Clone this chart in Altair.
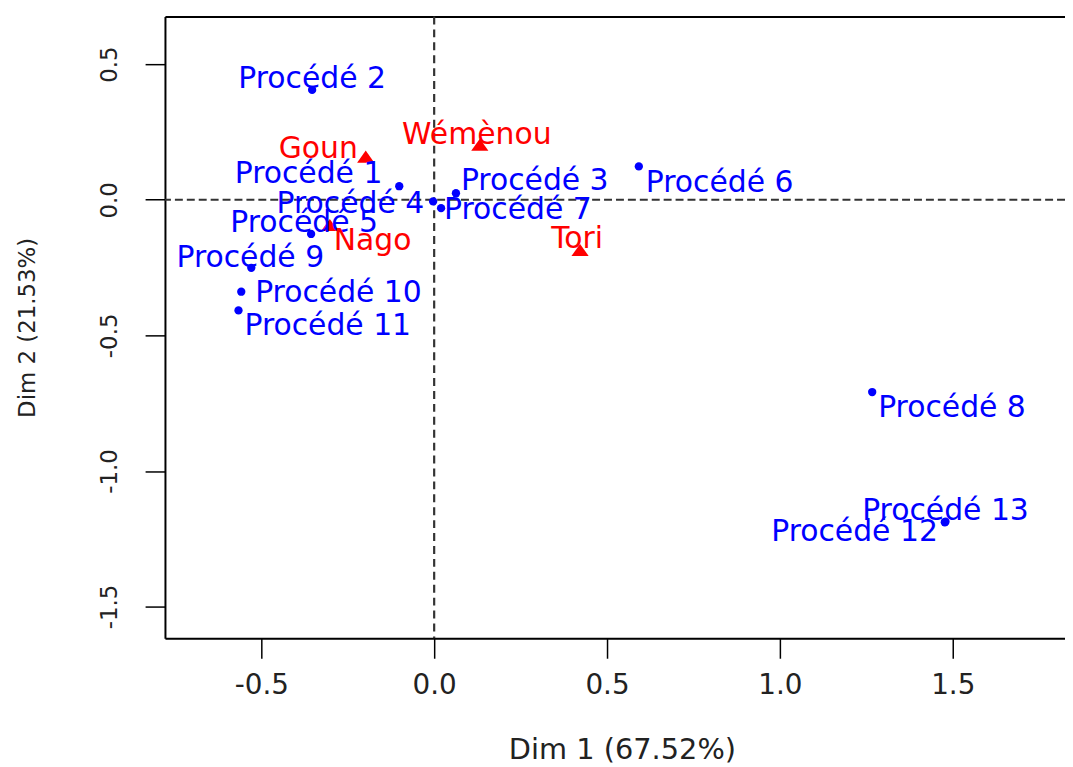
import altair as alt
import pandas as pd

# ---- data ----
proc_names = ["Procédé 1", "Procédé 2", "Procédé 3", "Procédé 4", "Procédé 5",
              "Procédé 6", "Procédé 7", "Procédé 8", "Procédé 9", "Procédé 10",
              "Procédé 11", "Procédé 12", "Procédé 13"]
proc_dim1 = [-0.101, -0.353, 0.063, -0.003, -0.356, 0.592, 0.020, 1.267,
             -0.529, -0.558, -0.566, 1.477, 1.479]
proc_dim2 = [0.050, 0.405, 0.024, -0.006, -0.126, 0.123, -0.031, -0.709,
             -0.251, -0.339, -0.408, -1.189, -1.187]

grp_names = ["Goun", "Wémènou", "Nago", "Tori"]
grp_dim1 = [-0.198, 0.132, -0.302, 0.422]
grp_dim2 = [0.159, 0.203, -0.093, -0.185]

x_ticks = [-0.5, 0.0, 0.5, 1.0, 1.5]
y_ticks = [-1.5, -1.0, -0.5, 0.0, 0.5]
x_title = "Dim 1 (67.52%)"
y_title = "Dim 2 (21.53%)"

# ---- label placement (layout, pixels): align, dx, dy ----
label_layout = {
    "Procédé 1": ("right", -17, -12),
    "Procédé 2": ("center", 0, -11),
    "Procédé 3": ("left", 5, -12),
    "Procédé 4": ("right", -9, 3),
    "Procédé 5": ("center", -7, -11),
    "Procédé 6": ("left", 7, 17),
    "Procédé 7": ("left", 3, 2),
    "Procédé 8": ("left", 6, 16),
    "Procédé 9": ("center", -1, -10),
    "Procédé 10": ("left", 14, 1),
    "Procédé 11": ("left", 6, 16),
    "Procédé 12": ("right", -7, 10),
    "Procédé 13": ("center", 0, -11),
    "Goun": ("right", -8, -8),
    "Wémènou": ("center", -3, -10),
    "Nago": ("left", 4, 16),
    "Tori": ("center", -3, -11),
}

BLUE = "#0000FF"
RED = "#FF0000"
FONT = "DejaVu Sans"
W, H = 906, 626

proc = pd.DataFrame({"name": proc_names, "d1": proc_dim1, "d2": proc_dim2})
grp = pd.DataFrame({"name": grp_names, "d1": grp_dim1, "d2": grp_dim2})
zero = pd.DataFrame({"v": [0.0]})

xscale = alt.Scale(domain=[-0.7787, 1.8247], nice=False, zero=False)
yscale = alt.Scale(domain=[-1.6172, 0.6758], nice=False, zero=False)

lab_expr = "(datum.value < 0 ? '-' : '') + format(abs(datum.value), '.1f')"

x_axis = alt.Axis(values=x_ticks, labelExpr=lab_expr, grid=False,
                  tickSize=20, tickWidth=1.5, tickColor="black",
                  domainColor="black", domainWidth=2,
                  labelFont=FONT, labelFontSize=28, labelColor="#222222",
                  labelPadding=14, title=x_title, titleFont=FONT,
                  titleFontSize=29, titleFontWeight="normal", titleColor="#222222",
                  titleX=460, titleY=112, titleBaseline="middle", titleAlign="center")
y_axis = alt.Axis(values=y_ticks, labelExpr=lab_expr, grid=False,
                  tickSize=20, tickWidth=1.5, tickColor="black",
                  domainColor="black", domainWidth=2,
                  labelFont=FONT, labelFontSize=23, labelColor="#222222",
                  labelAngle=270, labelAlign="center", labelBaseline="bottom",
                  labelPadding=24, title=y_title, titleFont=FONT,
                  titleFontSize=23, titleFontWeight="normal", titleColor="#222222",
                  titleAngle=270, titleX=-138, titleY=313,
                  titleBaseline="middle", titleAlign="center")
top_axis = alt.Axis(orient="top", labels=False, ticks=False, grid=False,
                    domainColor="black", domainWidth=2, title=None)

vline = alt.Chart(zero).mark_rule(color="#333333", strokeWidth=2.2,
                                   strokeDash=[8, 5]).encode(
    x=alt.X("v:Q", scale=xscale, axis=top_axis))
hline = alt.Chart(zero).mark_rule(color="#333333", strokeWidth=1.8,
                                   strokeDash=[8, 4]).encode(
    y=alt.Y("v:Q", scale=yscale, axis=None))

pts = alt.Chart(proc).mark_point(filled=True, shape="circle", size=70,
                                 color=BLUE, opacity=1).encode(
    x=alt.X("d1:Q", scale=xscale, axis=x_axis),
    y=alt.Y("d2:Q", scale=yscale, axis=y_axis))
tris = alt.Chart(grp).mark_point(filled=True, shape="M-1,0.7L1,0.7L0,-0.7Z",
                                 size=300, color=RED, opacity=1).encode(
    x=alt.X("d1:Q", scale=xscale, axis=None),
    y=alt.Y("d2:Q", scale=yscale, axis=None))

layers = [vline, hline, pts, tris]
for df, col in ((proc, BLUE), (grp, RED)):
    for nm in df["name"]:
        al, dx, dy = label_layout[nm]
        layers.append(
            alt.Chart(df).transform_filter(alt.datum.name == nm)
            .mark_text(align=al, baseline="middle", dx=dx, dy=dy,
                       font=FONT, fontSize=30, color=col)
            .encode(x=alt.X("d1:Q", scale=xscale, axis=None),
                    y=alt.Y("d2:Q", scale=yscale, axis=None),
                    text="name:N"))

chart = (alt.layer(*layers)
         .resolve_axis(x="independent", y="independent")
         .properties(width=W, height=H,
                     autosize=alt.AutoSizeParams(type="none"),
                     padding={"left": 158, "top": 6, "right": 0, "bottom": 135})
         .configure_view(stroke=None)
         .configure(background="white"))

chart.save("out.html", embed_options={"renderer": "svg", "actions": False})
